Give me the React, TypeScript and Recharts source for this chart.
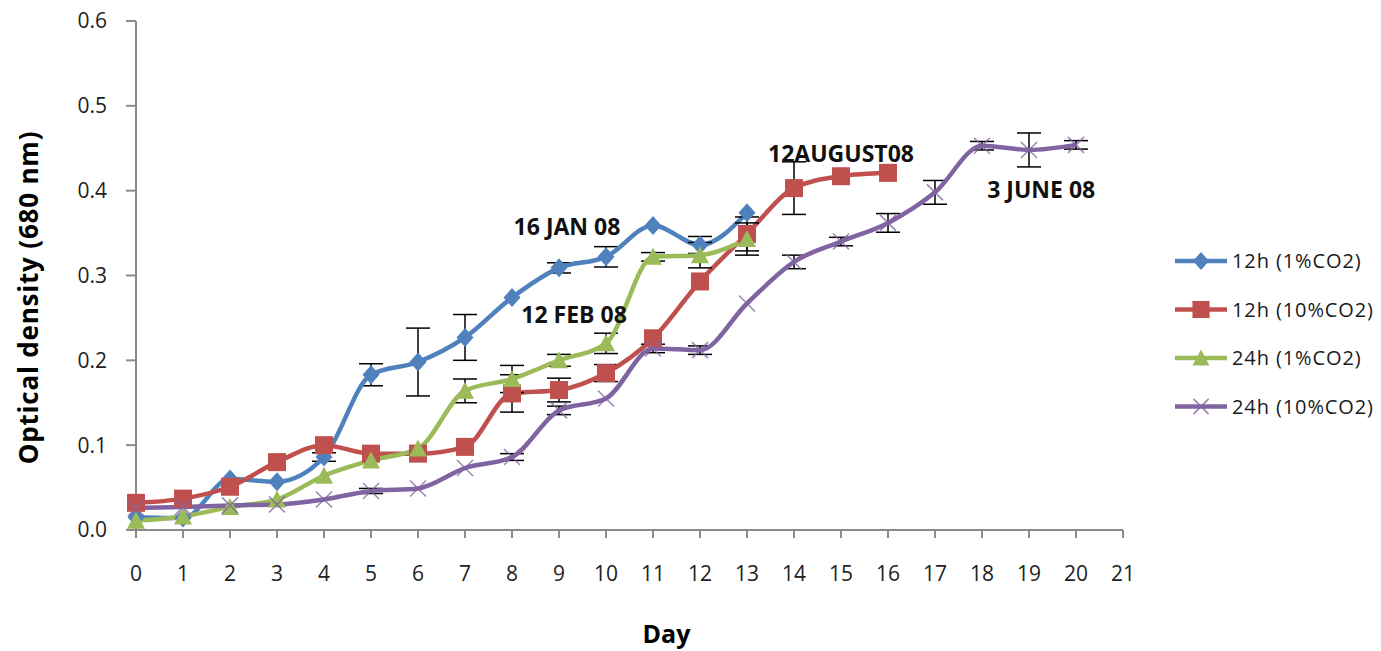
import React from 'react'
import { LineChart, Line, XAxis, YAxis, ErrorBar, Legend, ReferenceDot } from 'recharts'

// x axis: days after inoculation
const days = [0, 1, 2, 3, 4, 5, 6, 7, 8, 9, 10, 11, 12, 13, 14, 15, 16, 17, 18, 19, 20]
const dayTicks = [0, 1, 2, 3, 4, 5, 6, 7, 8, 9, 10, 11, 12, 13, 14, 15, 16, 17, 18, 19, 20, 21]
const odTicks = [0, 0.1, 0.2, 0.3, 0.4, 0.5, 0.6]

// series values (OD 680 nm) and their error bars
const blue12h1 = [0.015, 0.014, 0.06, 0.057, 0.086, 0.183, 0.198, 0.227, 0.274, 0.309, 0.322, 0.359, 0.336, 0.374]
const blueErr = [0, 0, 0, 0, 0.005, 0.013, 0.04, 0.027, 0, 0.006, 0.012, 0, 0.01, 0]
const red12h10 = [0.032, 0.037, 0.051, 0.08, 0.1, 0.09, 0.09, 0.098, 0.161, 0.165, 0.185, 0.226, 0.293, 0.349, 0.403, 0.417, 0.421]
const redErr = [0, 0, 0, 0, 0, 0, 0, 0, 0.022, 0.014, 0.01, 0, 0, 0.02, 0.031, 0, 0]
const green24h1 = [0.011, 0.016, 0.027, 0.036, 0.064, 0.082, 0.096, 0.164, 0.178, 0.2, 0.22, 0.322, 0.324, 0.343]
const greenErr = [0, 0, 0, 0, 0, 0, 0, 0.014, 0.016, 0.007, 0.012, 0.005, 0.015, 0.019]
const purple24h10 = [0.026, 0.027, 0.029, 0.03, 0.036, 0.046, 0.049, 0.073, 0.086, 0.141, 0.155, 0.214, 0.212, 0.267, 0.316, 0.34, 0.362, 0.398, 0.453, 0.448, 0.454]
const purpleErr = [0, 0, 0, 0, 0, 0.003, 0, 0, 0.004, 0.005, 0, 0.005, 0.005, 0, 0.008, 0.005, 0.011, 0.014, 0.005, 0.02, 0.005]

// annotation texts with their (day, OD) anchor
const noteTexts = ['16 JAN 08', '12 FEB 08', '12AUGUST08', '3 JUNE 08']
const noteDays = [9.17, 9.32, 15.0, 19.26]
const noteOds = [0.357, 0.254, 0.444, 0.401]

const series = [
  { key: 'a', err: 'aErr', name: '12h (1%CO2)', color: '#4F81BD', shape: 'diamond' },
  { key: 'b', err: 'bErr', name: '12h (10%CO2)', color: '#C0504D', shape: 'square' },
  { key: 'c', err: 'cErr', name: '24h (1%CO2)', color: '#9BBB59', shape: 'triangle' },
  { key: 'd', err: 'dErr', name: '24h (10%CO2)', color: '#8064A2', shape: 'cross' },
]

const pick = (arr: number[], i: number) => (i < arr.length ? arr[i] : null)

const data = days.map((d, i) => ({
  day: d,
  a: pick(blue12h1, i), aErr: pick(blueErr, i),
  b: pick(red12h10, i), bErr: pick(redErr, i),
  c: pick(green24h1, i), cErr: pick(greenErr, i),
  d: pick(purple24h10, i), dErr: pick(purpleErr, i),
}))

const FONT = '"Open Sans", sans-serif'

const Marker = ({ shape, cx, cy, color, s = 1 }: any) => {
  if (shape === 'diamond') {
    const w = 8.5 * s, h = 9.5 * s
    return <path d={`M${cx},${cy - h}L${cx + w},${cy}L${cx},${cy + h}L${cx - w},${cy}Z`} fill={color} />
  }
  if (shape === 'square') {
    const r = 9 * s
    return <rect x={cx - r} y={cy - r} width={2 * r} height={2 * r} fill={color} />
  }
  if (shape === 'triangle') {
    const w = 9 * s, h = 8 * s
    return <path d={`M${cx},${cy - h - 1}L${cx + w},${cy + h}L${cx - w},${cy + h}Z`} fill={color} />
  }
  const r = 8 * s
  return (
    <g stroke={color} strokeWidth={1.5} opacity={0.8}>
      <line x1={cx - r} y1={cy - r} x2={cx + r} y2={cy + r} />
      <line x1={cx - r} y1={cy + r} x2={cx + r} y2={cy - r} />
    </g>
  )
}

const makeDot = (shape: string, color: string) => (p: any) => {
  if (p.cx == null || p.cy == null || p.value == null) return <g key={p.index} />
  return <g key={p.index}><Marker shape={shape} cx={p.cx} cy={p.cy} color={color} /></g>
}

const LegendBox = () => (
  <svg width={258} height={200} style={{ display: 'block' }}>
    {series.map((s, i) => {
      const y = 31 + i * 48.5
      return (
        <g key={s.key}>
          <line x1={52} x2={104} y1={y} y2={y} stroke={s.color} strokeWidth={4.5} />
          <Marker shape={s.shape} cx={78} cy={y} color={s.color} s={0.95} />
          <text x={109} y={y} dy="0.36em" fontFamily={FONT} fontSize={20} letterSpacing={0.9} fill="#1a1a1a">
            {s.name}
          </text>
        </g>
      )
    })}
  </svg>
)

const DayLabel = ({ viewBox }: any) => (
  <text x={viewBox.x + viewBox.width / 2 + 37} y={643} textAnchor="middle" fontFamily={FONT} fontWeight={700} fontSize={25} fill="#000">
    Day
  </text>
)

const OdLabel = ({ viewBox }: any) => {
  const cx = 29
  const cy = viewBox.y + viewBox.height / 2 + 22
  return (
    <text x={cx} y={cy} dy="0.36em" textAnchor="middle" transform={`rotate(-90, ${cx}, ${cy})`}
      fontFamily={FONT} fontWeight={700} fontSize={26} letterSpacing={0.8} fill="#000">
      Optical density (680 nm)
    </text>
  )
}

const tickStyle = { fontFamily: FONT, fontSize: 21, fill: '#222' }
const axisLine = { stroke: '#8a8a8a', strokeWidth: 2 }

export default function App() {
  return (
    <div style={{ position: 'absolute', left: 0, top: 0, width: 1381, height: 651, background: '#fff' }}>
      <LineChart width={1381} height={651} data={data} margin={{ top: 21, right: 0, bottom: 0, left: 0 }}>
        <XAxis dataKey="day" type="number" domain={[0, 21]} ticks={dayTicks} interval={0}
          height={121} tickSize={8} tickMargin={28} tick={tickStyle}
          axisLine={axisLine} tickLine={axisLine} label={<DayLabel />} />
        <YAxis type="number" domain={[0, 0.6]} ticks={odTicks} width={136}
          tickSize={10} tickMargin={19} tick={tickStyle} tickFormatter={(v: number) => v.toFixed(1)}
          axisLine={axisLine} tickLine={axisLine} label={<OdLabel />} />
        {series.map((s) => (
          <Line key={s.key} dataKey={s.key} name={s.name} type="monotone" stroke={s.color} strokeWidth={4.5}
            dot={makeDot(s.shape, s.color)} activeDot={false} isAnimationActive={false} legendType="none">
            <ErrorBar dataKey={s.err} width={12} stroke="#000" strokeWidth={1.5} direction="y" />
          </Line>
        ))}
        {noteTexts.map((t, i) => (
          <ReferenceDot key={t} x={noteDays[i]} y={noteOds[i]} r={0} ifOverflow="visible"
            shape={(p: any) => (
              <text x={p.cx} y={p.cy} dy="0.36em" textAnchor="middle" fontFamily={FONT} fontWeight={700}
                fontSize={23} fill="#111">{t}</text>
            )} />
        ))}
        <Legend layout="vertical" align="right" verticalAlign="top" content={<LegendBox />}
          wrapperStyle={{ top: 230, right: 0, width: 258 }} />
      </LineChart>
    </div>
  )
}
